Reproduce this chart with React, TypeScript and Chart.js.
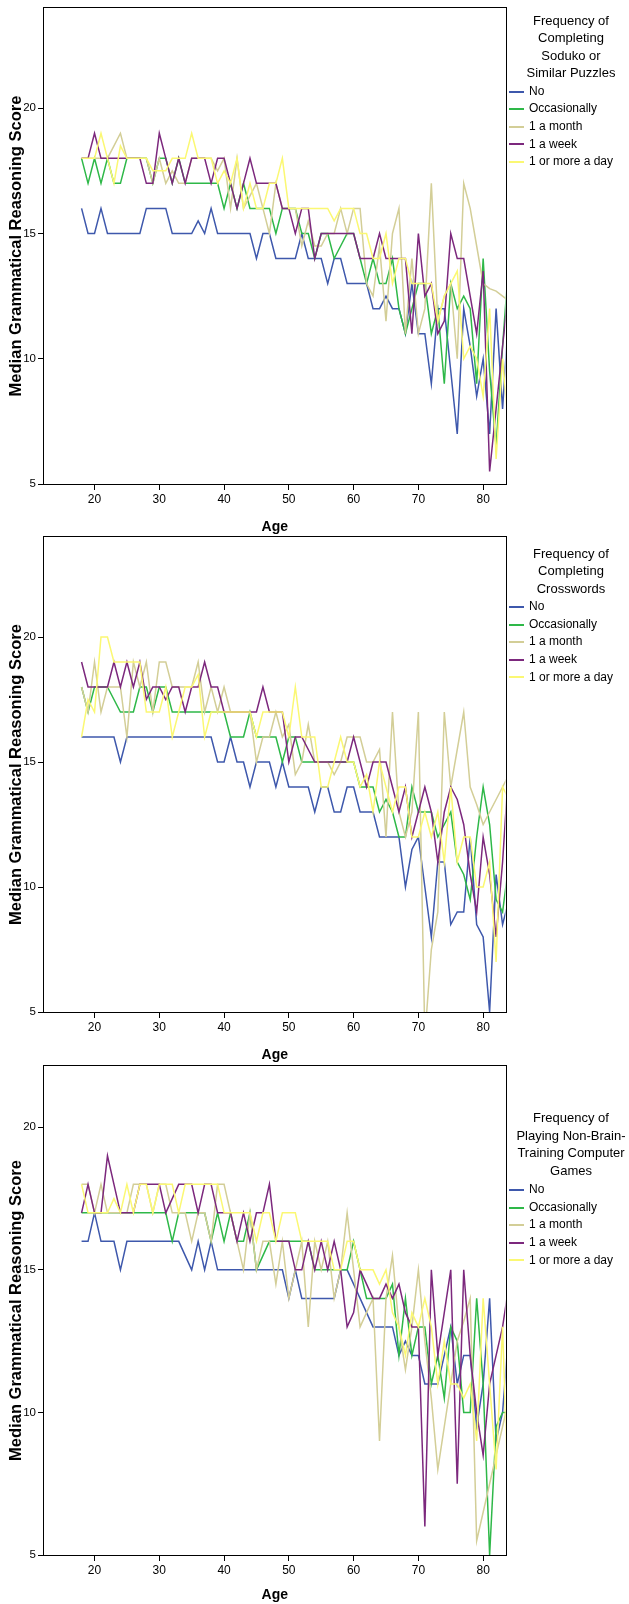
import React, { useEffect, useRef } from 'react';
import { Chart, registerables } from 'chart.js';

Chart.register(...registerables);

// ---------------- data ----------------
const ages = [18, 19, 20, 21, 22, 23, 24, 25, 26, 27, 28, 29, 30, 31, 32, 33, 34, 35, 36, 37, 38, 39, 40, 41, 42, 43, 44, 45, 46, 47, 48, 49, 50, 51, 52, 53, 54, 55, 56, 57, 58, 59, 60, 61, 62, 63, 64, 65, 66, 67, 68, 69, 70, 71, 72, 73, 74, 75, 76, 77, 78, 79, 80, 81, 82, 83, 84];

const seriesNames = ['No', 'Occasionally', '1 a month', '1 a week', '1 or more a day'];

const sudokuNo = [16, 15, 15, 16, 15, 15, 15, 15, 15, 15, 16, 16, 16, 16, 15, 15, 15, 15, 15.5, 15, 16, 15, 15, 15, 15, 15, 15, 14, 15, 15, 14, 14, 14, 14, 15, 14, 14, 14, 13, 14, 14, 13, 13, 13, 13, 12, 12, 12.5, 12, 12, 11, 13, 11, 11, 9, 12, 12, 9.5, 7, 12, 10.5, 8.5, 10, 7, 12, 8, 12];
const sudokuOcc = [18, 17, 18, 17, 18, 17, 17, 18, 18, 18, 18, 17, 18, 18, 17, 18, 17, 17, 17, 17, 17, 17, 16, 17, 16, 17, 16, 16, 16, 16, 15, 16, 16, 16, 15, 15, 14, 15, 15, 14, 14.5, 15, 15, 14, 13, 14, 13, 13, 14, 12, 11, 12, 13, 13, 11, 12, 9, 13, 12, 12.5, 12, 9, 14, 9.5, 6.5, 10.5, 14];
const sudokuMonth = [18, 18, 18, 18, 18, 18.5, 19, 18, 18, 18, 18, 17, 18, 17, 17.5, 17, 17, 18, 18, 18, 18, 17.5, 18, 16, 18, 16, 16.5, 17, 16, 15, 17, 16, 16, 16, 14.5, 15.5, 14.5, 14.5, 15, 15, 16, 15, 16, 16, 13, 12.5, 14.5, 11.5, 15, 16, 11, 14, 11, 12, 17, 11.5, 12.5, 13, 10, 17, 16, 14.5, 13, 12.8, 12.7, 12.5, 12.3];
const sudokuWeek = [18, 18, 19, 18, 18, 18, 18, 18, 18, 18, 17, 17, 19, 18, 17, 18, 17, 18, 18, 18, 17, 18, 18, 17, 16, 17, 18, 17, 17, 17, 17, 16, 16, 15, 16, 16, 14, 15, 15, 15, 15, 15, 15, 14, 14, 14, 15, 14, 14, 14, 14, 11, 15, 12.5, 13, 11, 11.5, 15, 14, 14, 12.5, 11, 13.5, 5.5, 8, 10.5, 13];
const sudokuDay = [18, 18, 18, 19, 18, 17, 18.5, 18, 18, 18, 18, 17.5, 17.5, 17.5, 18, 18, 18, 19, 18, 18, 18, 17, 17.5, 17, 18, 16, 17, 16, 16, 17, 17, 18, 16, 16, 16, 16, 16, 16, 16, 15.5, 16, 16, 16, 15, 15, 14, 14, 15, 13, 14, 14, 13, 13, 13, 13, 11.5, 12.5, 13, 13.5, 10, 10.5, 10, 8.5, 12, 6, 10, 7];

const crossNo = [16, 16, 16, 16, 16, 16, 15, 16, 16, 16, 16, 16, 16, 16, 16, 16, 16, 16, 16, 16, 16, 15, 15, 16, 15, 15, 14, 15, 15, 15, 14, 15, 14, 14, 14, 14, 13, 14, 14, 13, 13, 14, 14, 13, 13, 13, 12, 12, 12, 12, 10, 11.5, 12, 10, 8, 11, 11, 8.5, 9, 9, 12, 8.5, 8, 5, 10.5, 8.5, 9.5];
const crossOcc = [18, 17, 18, 18, 18, 17.5, 17, 17, 17, 18, 18, 17, 18, 18, 17, 17, 17, 17, 17, 17, 17, 17, 17, 16, 16, 16, 17, 16, 16, 16, 16, 15, 16, 16, 15, 15, 15, 15, 15, 15, 15, 15, 15, 14, 14, 14, 13, 13.5, 13, 12, 12, 14, 13, 13, 13, 12, 12.5, 13, 11, 10.5, 9.5, 12, 14, 12.5, 9.5, 9, 11];
const crossMonth = [18, 17, 19, 17, 18, 18, 18, 16, 19, 18, 19, 17, 19, 19, 18, 18, 18, 18, 19, 17, 18, 17, 18, 17, 17, 17, 17, 15, 16, 16, 17, 16, 16.5, 14.5, 15, 16.5, 15, 15, 15, 14.5, 15, 16, 16, 16, 15, 15, 15.5, 12, 17, 13, 12, 13, 17, 4, 7.5, 9, 17, 14, 15.5, 17, 14, 13.3, 12.5, 13, 13.5, 14, 14.5];
const crossWeek = [19, 18, 18, 18, 18, 19, 18, 19, 18, 19, 17.5, 18, 18, 17.5, 18, 18, 17, 18, 18, 19, 18, 18, 17, 17, 17, 17, 17, 17, 18, 17, 17, 17, 15, 16, 16, 15.5, 15, 15, 15, 15, 15, 15, 16, 15, 14, 15, 15, 15, 14, 13, 14, 12, 13, 14, 13, 11, 13, 14, 13.5, 12.5, 10.5, 9, 12, 10.5, 8, 11, 15];
const crossDay = [16, 17.5, 17, 20, 20, 19, 19, 19, 19, 19, 17, 17, 17, 18, 16, 17, 18, 18, 18.5, 16, 17, 17, 17, 17, 17, 17, 17, 16, 17, 17, 17, 17, 16, 18, 16, 16, 16, 14, 14, 15, 16, 15, 15, 14, 14.5, 13, 15, 14, 13, 14, 14, 12, 12, 13, 12, 13, 11, 14, 11, 12, 12, 10, 10, 11, 7, 14, 13.5];

const gamesNo = [16, 16, 17, 16, 16, 16, 15, 16, 16, 16, 16, 16, 16, 16, 16, 16, 15.5, 15, 16, 15, 16, 15, 15, 15, 15, 15, 15, 15, 15, 15, 15, 15, 14, 15, 14, 14, 14, 14, 14, 14, 15, 15, 14.5, 14, 13.5, 13, 13, 13, 13, 12, 12.5, 12, 12, 11, 11, 11, 12, 13, 11, 12, 12, 9.5, 11, 14, 9, 10, 13];
const gamesOcc = [17, 17, 17, 17, 17, 17, 17, 17, 17, 17, 17, 17, 17, 17, 16, 17, 17, 17, 17, 17, 16, 17, 16, 17, 16, 16, 17, 15, 15.5, 16, 16, 16, 16, 16, 16, 16, 15, 15, 15, 15, 15, 15, 16, 15, 14, 14, 14, 14, 14.5, 12, 14, 12, 13, 13, 11, 12, 10.5, 13, 12.5, 10, 10, 14, 11, 5, 9.5, 10, 10];
const gamesMonth = [18, 18, 17, 18, 17, 17, 17, 17, 18, 18, 18, 17, 18, 18, 17, 17, 17, 16, 17, 17, 16, 18, 18, 17, 16, 15, 17, 15, 16, 16, 14.5, 16, 14, 15, 16, 13, 16, 15, 16, 14, 15, 17, 15, 13, 13.5, 14, 9, 14, 15.5, 13, 11.5, 13, 15, 12.5, 10.5, 8, 9.5, 11, 12.5, 13.2, 14, 5.5, 6.5, 7.5, 8.5, 9.5, 10.5];
const gamesWeek = [17, 18, 17, 17, 19, 18, 17, 17, 17, 18, 18, 18, 18, 17, 17.5, 18, 18, 18, 17, 18, 18, 17, 17, 17, 16, 17, 16, 17, 17, 18, 16, 16, 16, 15, 15, 16, 15, 16, 15, 16, 15, 13, 13.5, 15, 14.5, 14, 14, 14.5, 14, 14.5, 13.5, 13, 13, 6, 15, 12, 13.5, 15, 7.5, 15, 12, 10, 8.5, 11, 12, 13, 14.5];
const gamesDay = [18, 17, 17, 17, 17, 17.5, 17, 18, 17, 18, 18, 17, 18, 18, 18, 17, 18, 18, 18, 18, 18, 18, 17, 17, 17, 17, 17, 16, 17, 17, 16, 17, 17, 17, 16, 16, 16, 16, 16, 15, 15, 16, 16, 15, 15, 15, 14.5, 15, 13.5, 13, 12, 13.5, 13, 14, 13, 11, 12.5, 11, 11, 10.5, 11, 9, 14, 11, 8, 13, 6];

const sudokuTitle = ['Frequency of', 'Completing', 'Soduko or', 'Similar Puzzles'];
const crossTitle = ['Frequency of', 'Completing', 'Crosswords'];
const gamesTitle = ['Frequency of', 'Playing Non-Brain-', 'Training Computer', 'Games'];

// ---------------- styles / layout ----------------
const FONT = "'Liberation Sans', Arial, Helvetica, sans-serif";
const COLORS = ['#3E58AC', '#2EB848', '#D3CE97', '#7C287D', '#FBF873'];
const W = 629;
const AREA_LEFT = 44;
const AREA_RIGHT = 505.5;
const X_MIN = 12.2;
const X_MAX = 83.45;

interface PanelSpec {
  top: number;
  height: number;
  areaTop: number;
  areaBottom: number;
  yMax: number;
  titlePadBottom: number;
  series: number[][];
  legendTitle: string[];
  legendTitleY: number;
  legendItemY: number;
}

const panels: PanelSpec[] = [
  { top: 0, height: 536, areaTop: 8, areaBottom: 484, yMax: 24, titlePadBottom: 0.3, series: [sudokuNo, sudokuOcc, sudokuMonth, sudokuWeek, sudokuDay], legendTitle: sudokuTitle, legendTitleY: 20.5, legendItemY: 91.5 },
  { top: 536, height: 526, areaTop: 537, areaBottom: 1012, yMax: 24, titlePadBottom: -1.5, series: [crossNo, crossOcc, crossMonth, crossWeek, crossDay], legendTitle: crossTitle, legendTitleY: 553.3, legendItemY: 607 },
  { top: 1062, height: 542, areaTop: 1066, areaBottom: 1555, yMax: 22.15, titlePadBottom: 0.5, series: [gamesNo, gamesOcc, gamesMonth, gamesWeek, gamesDay], legendTitle: gamesTitle, legendTitleY: 1117.9, legendItemY: 1190 },
];

const framePlugin = {
  id: 'frame',
  afterDatasetsDraw(chart: any) {
    const { ctx, chartArea: a } = chart;
    ctx.save();
    ctx.strokeStyle = '#000';
    ctx.lineWidth = 1;
    const l = Math.round(a.left) - 0.5;
    const t = Math.round(a.top) - 0.5;
    const r = Math.round(a.right) + 0.5;
    const b = Math.round(a.bottom) + 0.5;
    ctx.strokeRect(l, t, r - l, b - t);
    ctx.restore();
  },
};

function Panel({ spec }: { spec: PanelSpec }) {
  const ref = useRef<HTMLCanvasElement>(null);
  useEffect(() => {
    const xAxisH = spec.top + spec.height - spec.areaBottom;
    const chart = new Chart(ref.current as HTMLCanvasElement, {
      type: 'line',
      data: {
        datasets: spec.series.map((vals, i) => ({
          label: seriesNames[i],
          data: ages.map((a, k) => ({ x: a, y: vals[k] })),
          borderColor: COLORS[i],
          backgroundColor: COLORS[i],
          borderWidth: 1.5,
          pointRadius: 0,
          tension: 0,
          fill: false,
          order: 4 - i,
        })),
      },
      options: {
        responsive: false,
        animation: false,
        devicePixelRatio: 1,
        layout: { padding: { left: 0, right: W - AREA_RIGHT, top: spec.areaTop - spec.top, bottom: 0 } },
        plugins: { legend: { display: false }, tooltip: { enabled: false } },
        scales: {
          x: {
            type: 'linear',
            min: X_MIN,
            max: X_MAX,
            ticks: { stepSize: 10, includeBounds: false, color: '#000', font: { family: FONT, size: 12 }, padding: 2, maxRotation: 0, autoSkip: false },
            grid: { drawOnChartArea: false, drawTicks: true, tickLength: 6, color: '#000' },
            border: { display: false },
            title: { display: true, text: 'Age', color: '#000', font: { family: FONT, size: 14, weight: 'bold' }, padding: { top: 0, bottom: spec.titlePadBottom } },
            afterFit: (s: any) => { s.height = xAxisH; s.paddingLeft = 0; s.paddingRight = 0; },
          },
          y: {
            type: 'linear',
            min: 5,
            max: spec.yMax,
            ticks: { stepSize: 5, includeBounds: false, color: '#000', font: { family: FONT, size: 11.5 }, padding: 2 },
            grid: { drawOnChartArea: false, drawTicks: true, tickLength: 6, color: '#000' },
            border: { display: false },
            title: { display: true, text: 'Median Grammatical Reasoning Score', color: '#000', font: { family: FONT, size: 16.5, weight: 'bold' }, padding: { top: 6.2, bottom: 0 } },
            afterFit: (s: any) => { s.width = AREA_LEFT; s.paddingTop = 0; s.paddingBottom = 0; },
          },
        },
      } as any,
      plugins: [framePlugin],
    });
    return () => chart.destroy();
  }, [spec]);
  return (
    <canvas
      ref={ref}
      width={W}
      height={spec.height}
      style={{ position: 'absolute', left: 0, top: spec.top, width: W, height: spec.height, display: 'block' }}
    />
  );
}

const LH = 17.6;

function Legend({ spec }: { spec: PanelSpec }) {
  return (
    <>
      <div
        style={{
          position: 'absolute', left: 511, width: 120, top: spec.legendTitleY - LH / 2,
          textAlign: 'center', fontFamily: FONT, fontSize: 13, lineHeight: LH + 'px', color: '#000', whiteSpace: 'nowrap',
        }}
      >
        {spec.legendTitle.map((t, i) => (<div key={i}>{t}</div>))}
      </div>
      {seriesNames.map((n, i) => (
        <React.Fragment key={n}>
          <div style={{ position: 'absolute', left: 509, top: Math.round(spec.legendItemY + i * LH) - 1, width: 15, height: 2, background: COLORS[i] }} />
          <div style={{ position: 'absolute', left: 529, top: spec.legendItemY + i * LH - LH / 2, fontFamily: FONT, fontSize: 12, lineHeight: LH + 'px', color: '#000', whiteSpace: 'nowrap' }}>{n}</div>
        </React.Fragment>
      ))}
    </>
  );
}

export default function App() {
  return (
    <div style={{ position: 'absolute', left: 0, top: 0, width: W, height: 1604, background: '#fff', overflow: 'hidden' }}>
      {panels.map((p, i) => (
        <React.Fragment key={i}>
          <Panel spec={p} />
          <Legend spec={p} />
        </React.Fragment>
      ))}
    </div>
  );
}
